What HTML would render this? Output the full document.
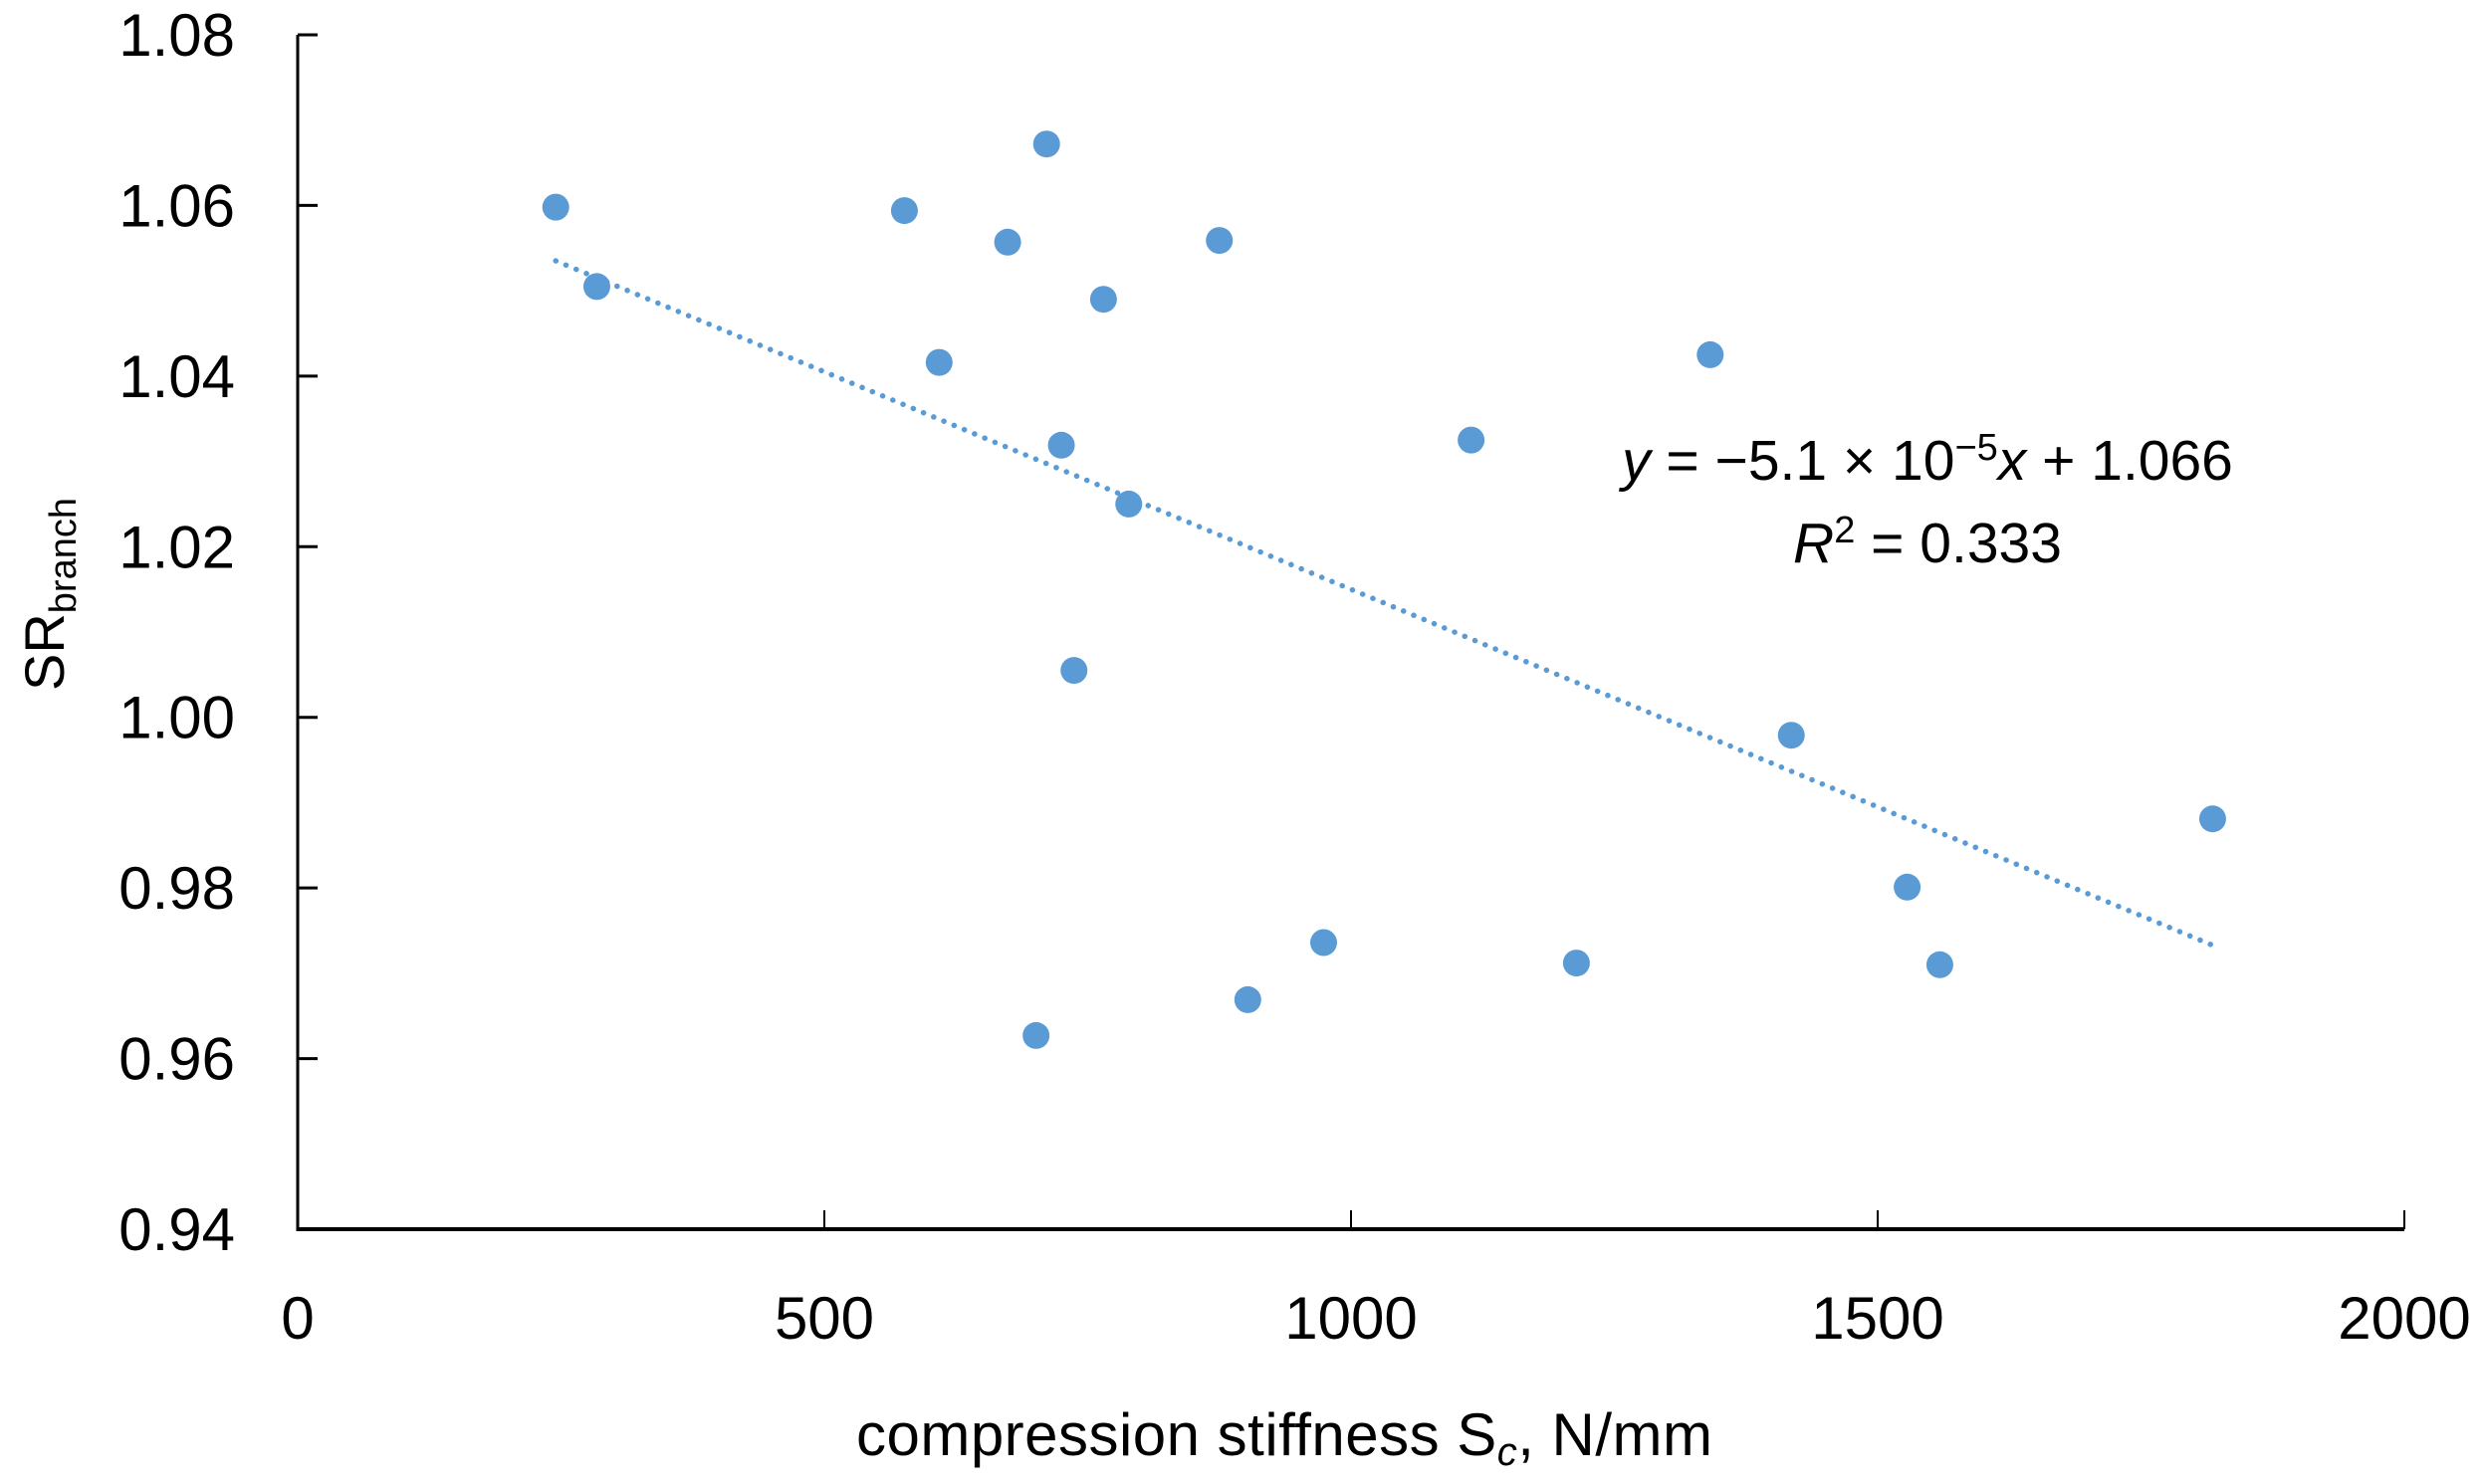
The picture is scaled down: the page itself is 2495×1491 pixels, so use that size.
<!DOCTYPE html>
<html><head><meta charset="utf-8"><style>
html,body{margin:0;padding:0;background:#fff}
svg{display:block;font-family:"Liberation Sans",sans-serif}
</style></head><body>
<svg id="chart" width="2495" height="1491" viewBox="0 0 2495 1491" xmlns="http://www.w3.org/2000/svg">
<rect width="2495" height="1491" fill="#fff"/>
<g id="axes"></g>
<g id="trend"></g>
<g id="points"></g>
<text transform="translate(64,597) rotate(-90)" text-anchor="middle" font-size="56">SR<tspan font-size="38" dy="12">branch</tspan></text>
<text x="1290" y="1462" text-anchor="middle" font-size="60" textLength="860">compression stiffness S<tspan font-size="40" dy="10" font-style="italic">c</tspan><tspan dy="-10">, N/mm</tspan></text>
<text x="1936" y="482" text-anchor="middle" font-size="57"><tspan font-style="italic">y</tspan> = −5.1 × 10<tspan font-size="38" dy="-20">−5</tspan><tspan dy="20" font-style="italic">x</tspan> + 1.066</text>
<text x="1936" y="565" text-anchor="middle" font-size="57"><tspan font-style="italic">R</tspan><tspan font-size="38" dy="-20">2</tspan><tspan dy="20"> = 0.333</tspan></text>
</svg>
<script>
const xValues=[245,284,576,609,674,711,725,765,789,737,875,701,902,974,1114,1214,1341,1418,1528,1559,1818];
const yValues=[1.0598,1.0505,1.0594,1.0416,1.0557,1.0672,1.0319,1.049,1.025,1.0055,1.0559,0.9627,0.9669,0.9736,1.0325,0.9712,1.0425,0.9979,0.9801,0.971,0.9881];
const xTicks=[0,500,1000,1500,2000];
const yTicks=[0.94,0.96,0.98,1.00,1.02,1.04,1.06,1.08];
const trendSlope=-5.1e-5;
const trendIntercept=1.066;

const NS="http://www.w3.org/2000/svg";
const X0=299,X1=2415,Y0=1235,Y1=35;
const xs=v=>X0+(v-0)/(2000-0)*(X1-X0);
const ys=v=>Y0-(v-0.94)/(1.08-0.94)*(Y0-Y1);
function mk(tag,attrs,parent){const e=document.createElementNS(NS,tag);for(const k in attrs)e.setAttribute(k,attrs[k]);parent.appendChild(e);return e;}
const axes=document.getElementById('axes');
let l=mk('line',{x1:X0,y1:Y0,x2:X1,y2:Y0,stroke:'#000','stroke-width':4},axes);


l=mk('line',{x1:X0,y1:Y0+2,x2:X0,y2:Y1,stroke:'#000','stroke-width':3},axes);


xTicks.forEach(t=>{
  const x=xs(t);
  const tk=mk('line',{x1:x,y1:Y0,x2:x,y2:Y0-19,stroke:'#000','stroke-width':2},axes);
  
  
  const tx=mk('text',{x:x,y:1345,'text-anchor':'middle','font-size':60},axes);
  tx.textContent=t;
  
  
});
yTicks.forEach(t=>{
  const y=ys(t);
  const tk=mk('line',{x1:X0,y1:y,x2:X0+20,y2:y,stroke:'#000','stroke-width':3},axes);
  
  
  const tx=mk('text',{x:236,y:y+21,'text-anchor':'end','font-size':60},axes);
  tx.textContent=t.toFixed(2);
  
  
});
const xmin=Math.min(...xValues),xmax=Math.max(...xValues);
const tl=mk('line',{x1:xs(xmin),y1:ys(trendSlope*xmin+trendIntercept),x2:xs(xmax),y2:ys(trendSlope*xmax+trendIntercept),stroke:'#5b9bd5','stroke-width':5.5,'stroke-dasharray':'0.1 11','stroke-linecap':'round'},document.getElementById('trend'));


const pg=document.getElementById('points');
xValues.forEach((xv,i)=>{
  const c=mk('circle',{cx:xs(xv),cy:ys(yValues[i]),r:13.5,fill:'#5b9bd5'},pg);
  
  
});
</script>
</body></html>
